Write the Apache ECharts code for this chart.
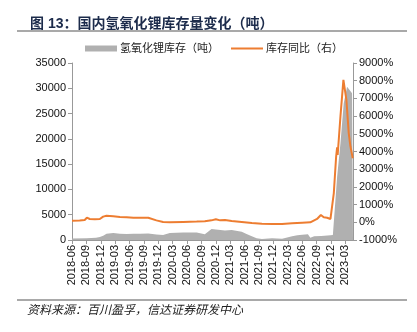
<!DOCTYPE html>
<html><head><meta charset="utf-8">
<script src="https://cdn.jsdelivr.net/npm/echarts@6/dist/echarts.min.js"></script>
<style>html,body{margin:0;padding:0;background:#fff}#c{width:417px;height:332px}</style>
</head><body><div id="c"></div>
<script>
// x positions in months since 2018-06
const xTickLabels = ['2018-06','2018-09','2018-12','2019-03','2019-06','2019-09','2019-12','2020-03','2020-06','2020-09','2020-12','2021-03','2021-06','2021-09','2021-12','2022-03','2022-06','2022-09','2022-12','2023-03'];
const stockMonths = [0,3,5,5.8,6.5,7.2,8.6,10,11.4,12.8,14.2,15.9,17.6,19,20.4,23.2,26,27.7,29.1,30.0,31.9,33.3,35.4,36.4,37.5,38.5,39.6,41.7,43.8,45.9,47.0,48.0,49.2,49.7,50.5,52.0,53.9,54.4,55.29,55.98,56.66,57.36,57.85,58.4,58.6];
const stockValues = [300,330,460,590,860,1250,1380,1250,1180,1250,1250,1300,1100,990,1380,1500,1500,1150,2170,2100,1900,1970,1640,1180,720,330,200,330,260,720,920,1050,1120,460,720,790,920,990,12500,19100,27000,30300,29700,29000,28700];
const yoyMonths = [0,1.6,2.65,3.1,3.7,4.75,5.8,6.5,7.2,8.6,10,11.4,12.8,14.2,15.9,16.2,17.6,19.0,20.4,23.2,26.0,27.7,29.1,30.0,30.9,31.9,33.3,35.4,37.5,39.6,41.7,43.8,45.9,48.0,49.7,50.1,51.1,51.9,52.5,53.2,53.9,54.3,54.6,55.08,55.29,55.4,55.98,56.6,56.85,57.23,57.71,58.07,58.55];
const yoyValues = [94,100,130,260,185,170,185,320,370,340,300,280,260,260,260,225,110,20,0,20,40,55,110,170,110,130,75,20,-40,-75,-95,-95,-55,-20,0,40,190,415,280,260,190,150,1650,3700,4240,3800,5970,8050,7950,6900,5040,4280,3620];
const stockName = '氢氧化锂库存（吨）';
const yoyName = '库存同比（右）';

const stockData = stockMonths.map((m, i) => [m, stockValues[i]]);
const yoyData = yoyMonths.map((m, i) => [m, yoyValues[i]]);

const chart = echarts.init(document.getElementById('c'), null, {renderer: 'canvas'});
const axisColor = '#999999';
const font = 'Liberation Sans, Arial, Noto Sans CJK SC, sans-serif';
chart.setOption({
  animation: false,
  textStyle: {fontFamily: font},
  title: {
    text: '图 13：国内氢氧化锂库存量变化（吨）',
    left: 25, top: 12,
    textStyle: {fontSize: 14, fontWeight: 'bold', color: '#1c2b4b', fontFamily: font}
  },
  graphic: [
    {type: 'line', shape: {x1: 17, y1: 31, x2: 407, y2: 31}, style: {stroke: '#8c8c8c', lineWidth: 1.5}},
    {type: 'line', shape: {x1: 17, y1: 300, x2: 407, y2: 300}, style: {stroke: '#8c8c8c', lineWidth: 1.5}},
    {type: 'text', left: 27, top: 303, style: {text: '资料来源：百川盈孚，信达证券研发中心', font: 'italic 12px Noto Sans CJK SC, sans-serif', fill: '#222'}}
  ],
  legend: {
    left: 80, top: 38,
    itemWidth: 32, itemHeight: 6, itemGap: 12,
    textStyle: {fontSize: 11, color: '#222', fontFamily: font, padding: [0, 0, 0, -2]},
    data: [
      {name: stockName, icon: 'rect'},
      {name: yoyName, icon: 'path://M0,0 L32,0 L32,2 L0,2 Z'}
    ]
  },
  grid: {left: 72, right: 64, top: 63, bottom: 92, containLabel: false, outerBoundsMode: 'none'},
  xAxis: {
    type: 'value', min: 0, max: 58.6, interval: 3,
    axisLine: {show: true, lineStyle: {color: axisColor, width: 1}},
    axisTick: {show: true, length: 4, lineStyle: {color: axisColor}},
    splitLine: {show: false},
    axisLabel: {
      rotate: 90, margin: 5, fontSize: 11, color: '#111', fontFamily: font,
      showMaxLabel: false,
      formatter: v => {
        const i = Math.round(v / 3);
        return (Math.abs(v - i * 3) < 1e-6 && xTickLabels[i]) ? xTickLabels[i] : '';
      }
    }
  },
  yAxis: [
    {
      type: 'value', min: 0, max: 35000, interval: 5000, position: 'left',
      axisLine: {show: true, lineStyle: {color: axisColor, width: 1}},
      axisTick: {show: true, length: 4, lineStyle: {color: axisColor}},
      splitLine: {show: false},
      axisLabel: {fontSize: 11, color: '#111', margin: 6, fontFamily: font, formatter: v => String(v)}
    },
    {
      type: 'value', min: -1000, max: 9000, interval: 1000, position: 'right',
      axisLine: {show: true, lineStyle: {color: axisColor, width: 1}},
      axisTick: {show: true, length: 4, lineStyle: {color: axisColor}},
      splitLine: {show: false},
      axisLabel: {fontSize: 11, color: '#111', margin: 6, fontFamily: font, formatter: v => v + '%'}
    }
  ],
  series: [
    {
      name: stockName, type: 'line', yAxisIndex: 0, data: stockData,
      symbol: 'none', lineStyle: {width: 0, color: '#b0b0b0'},
      itemStyle: {color: '#b0b0b0'},
      areaStyle: {color: '#b0b0b0', opacity: 1}, z: 1
    },
    {
      name: yoyName, type: 'line', yAxisIndex: 1, data: yoyData,
      symbol: 'none', lineStyle: {width: 2, color: '#ed7d31'},
      itemStyle: {color: '#ed7d31'}, z: 2
    }
  ]
});
</script></body></html>
